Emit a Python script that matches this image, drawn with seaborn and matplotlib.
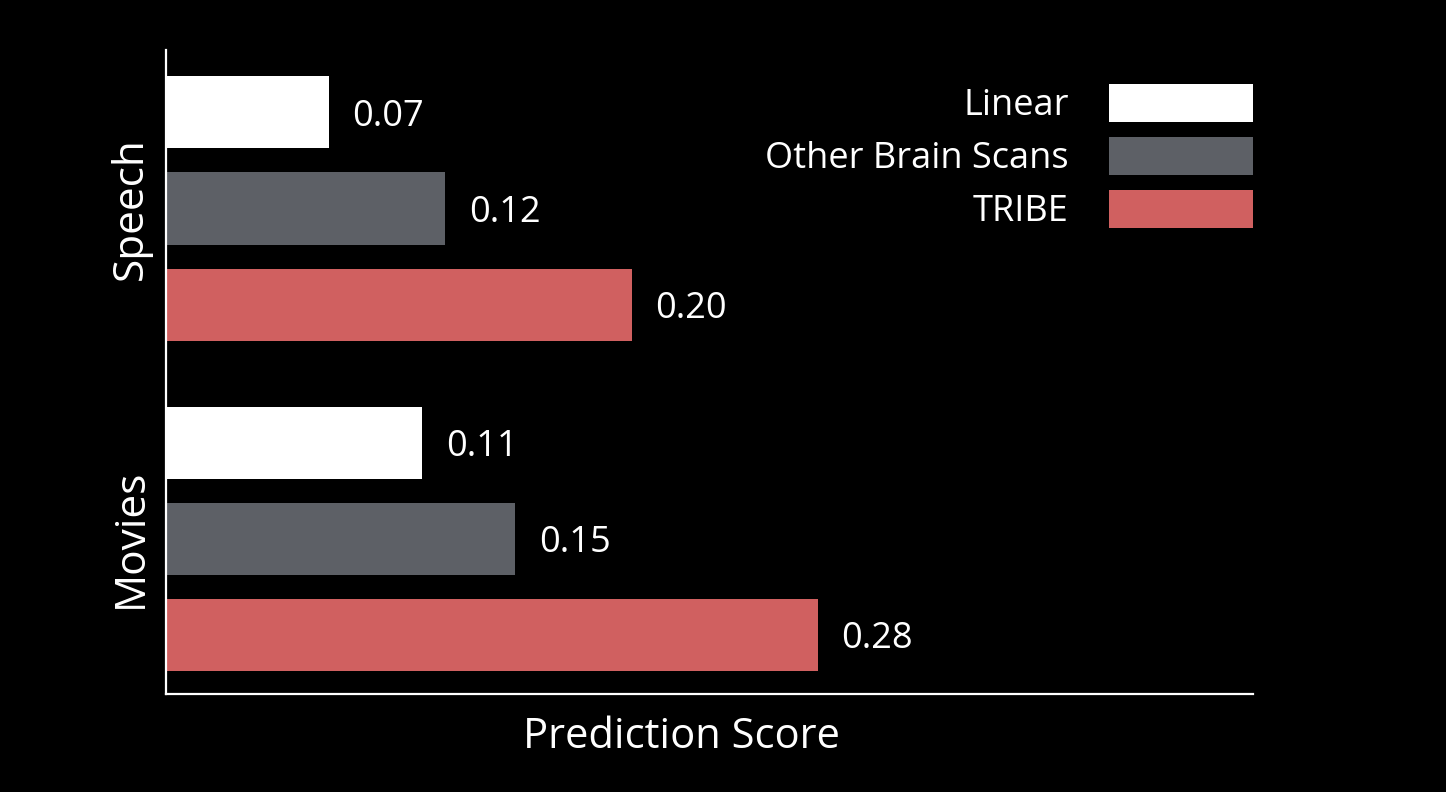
import matplotlib
matplotlib.use("Agg")
import matplotlib.pyplot as plt
import seaborn as sns
import pandas as pd

categories = ["Speech", "Movies"]
models = ["Linear", "Other Brain Scans", "TRIBE"]
speech_scores = [0.07, 0.12, 0.20]
movies_scores = [0.11, 0.15, 0.28]
colors = ["#FFFFFF", "#5D6066", "#D06060"]

rows = []
for cat, vals in zip(categories, [speech_scores, movies_scores]):
    for m, v in zip(models, vals):
        rows.append({"Task": cat, "Model": m, "Score": v})
df = pd.DataFrame(rows)

sns.set_style("dark")
plt.rcParams["font.family"] = ["Open Sans", "DejaVu Sans"]

fig = plt.figure(figsize=(14.46, 7.92), dpi=100, facecolor="black")
ax = fig.add_axes([166/1446, 1-694/792, (1253-166)/1446, (694-50)/792])
ax.set_facecolor("black")

sns.barplot(data=df, x="Score", y="Task", hue="Model", order=categories,
            hue_order=models, palette=colors, orient="h", width=0.873,
            gap=0.25, saturation=1, ax=ax, errorbar=None, linewidth=0)

for cont in ax.containers:
    texts = ax.bar_label(cont, fmt="%.2f", padding=17, color="white", fontsize=26)
    for t in texts:
        t.set_va("center_baseline")

ax.set_xlim(0, 0.467)
ax.set_ylim(1.47, -0.48)
ax.set_xticks([])
ax.tick_params(axis="y", length=0, pad=10, labelsize=30.5, colors="white")
for lab in ax.get_yticklabels():
    lab.set_rotation(90)
    lab.set_va("center")
ax.set_ylabel("")
ax.set_xlabel("Prediction Score", color="white", fontsize=30, va="center")
ax.xaxis.set_label_coords(0.474, -0.0668)

for s in ["top", "right"]:
    ax.spines[s].set_visible(False)
for s in ["left", "bottom"]:
    ax.spines[s].set_visible(True)
    ax.spines[s].set_color("white")
    ax.spines[s].set_linewidth(1.6)
ax.grid(False)

handles, labels = ax.get_legend_handles_labels()
leg = ax.legend(handles, labels, loc="upper right", bbox_to_anchor=(1.0, 1 - (84-50)/644),
                frameon=False, markerfirst=False, fontsize=26, labelcolor="white",
                handlelength=4.0, handleheight=1.25, handletextpad=1.1,
                labelspacing=0.35, borderpad=0, borderaxespad=0)
for t in leg.get_texts():
    t.set_ha("right")

fig.savefig("out.png", dpi=100, facecolor="black")
